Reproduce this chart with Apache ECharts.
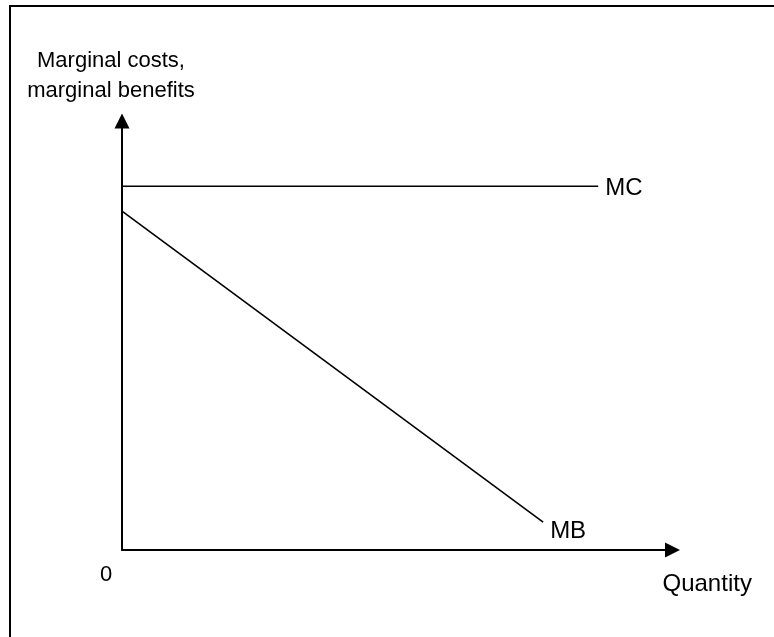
<!DOCTYPE html>
<html>
<head>
<meta charset="utf-8">
<script src="https://cdn.jsdelivr.net/npm/echarts@6/dist/echarts.min.js"></script>
<style>
  html, body { margin: 0; padding: 0; background: #fff; }
  #chart { width: 774px; height: 637px; }
</style>
</head>
<body>
<div id="chart"></div>
<script>
// curve end points, in axis units (0..100 on both axes)
const mcX = [0, 86.5]
const mcY = [84.8, 84.8]
const mbX = [0, 76.5]
const mbY = [79, 6.5]
const xTickLabels = ['0']

const font = 'Liberation Sans, Arial, sans-serif'

const chart = echarts.init(document.getElementById('chart'))
const option = {
  animation: false,
  backgroundColor: '#fff',
  textStyle: { fontFamily: font, color: '#000' },
  grid: {
    left: 122, // axis origin x
    top: 121,
    width: 550.5,
    height: 429,
    containLabel: false,
  },
  xAxis: {
    type: 'value',
    min: 0,
    max: 100,
    interval: 100,
    name: 'Quantity',
    nameLocation: 'end',
    nameGap: -10,
    nameTextStyle: { fontSize: 24, color: '#000', fontFamily: font, verticalAlign: 'top', lineHeight: 68 },
    axisLine: {
      show: true,
      symbol: ['none', 'triangle'],
      symbolSize: [15, 15],
      lineStyle: { color: '#000', width: 2 },
    },
    axisTick: { show: false },
    splitLine: { show: false },
    axisLabel: {
      show: true,
      margin: 14,
      fontSize: 22,
      color: '#000',
      fontFamily: font,
      padding: [0, 32, 0, 0],
      formatter: (v) => (v === 0 ? xTickLabels[0] : ''),
    },
  },
  yAxis: {
    type: 'value',
    min: 0,
    max: 100,
    name: 'Marginal costs,\nmarginal benefits',
    nameLocation: 'end',
    nameGap: 15,
    nameTextStyle: { fontSize: 22, lineHeight: 30, color: '#000', fontFamily: font, align: 'center', padding: [0, 22, 0, 0] },
    axisLine: {
      show: true,
      symbol: ['none', 'triangle'],
      symbolSize: [15, 15],
      lineStyle: { color: '#000', width: 2 },
    },
    axisTick: { show: false },
    splitLine: { show: false },
    axisLabel: { show: false },
  },
  series: [
    {
      name: 'MC',
      type: 'line',
      data: mcX.map((x, i) => [x, mcY[i]]),
      symbol: 'none',
      lineStyle: { color: '#000', width: 1.6 },
      endLabel: { show: true, formatter: '{a}', distance: 7, offset: [0, 2], fontSize: 24, color: '#000', fontFamily: font },
    },
    {
      name: 'MB',
      type: 'line',
      data: mbX.map((x, i) => [x, mbY[i]]),
      symbol: 'none',
      lineStyle: { color: '#000', width: 1.6 },
      endLabel: { show: true, formatter: '{a}', distance: 7, offset: [0, 9], fontSize: 24, color: '#000', fontFamily: font },
    },
  ],
  graphic: [
    {
      type: 'rect',
      shape: { x: 10, y: 6, width: 800, height: 700 },
      style: { fill: 'none', stroke: '#000', lineWidth: 2 },
      silent: true,
    },
  ],
}
chart.setOption(option)
</script>
</body>
</html>
